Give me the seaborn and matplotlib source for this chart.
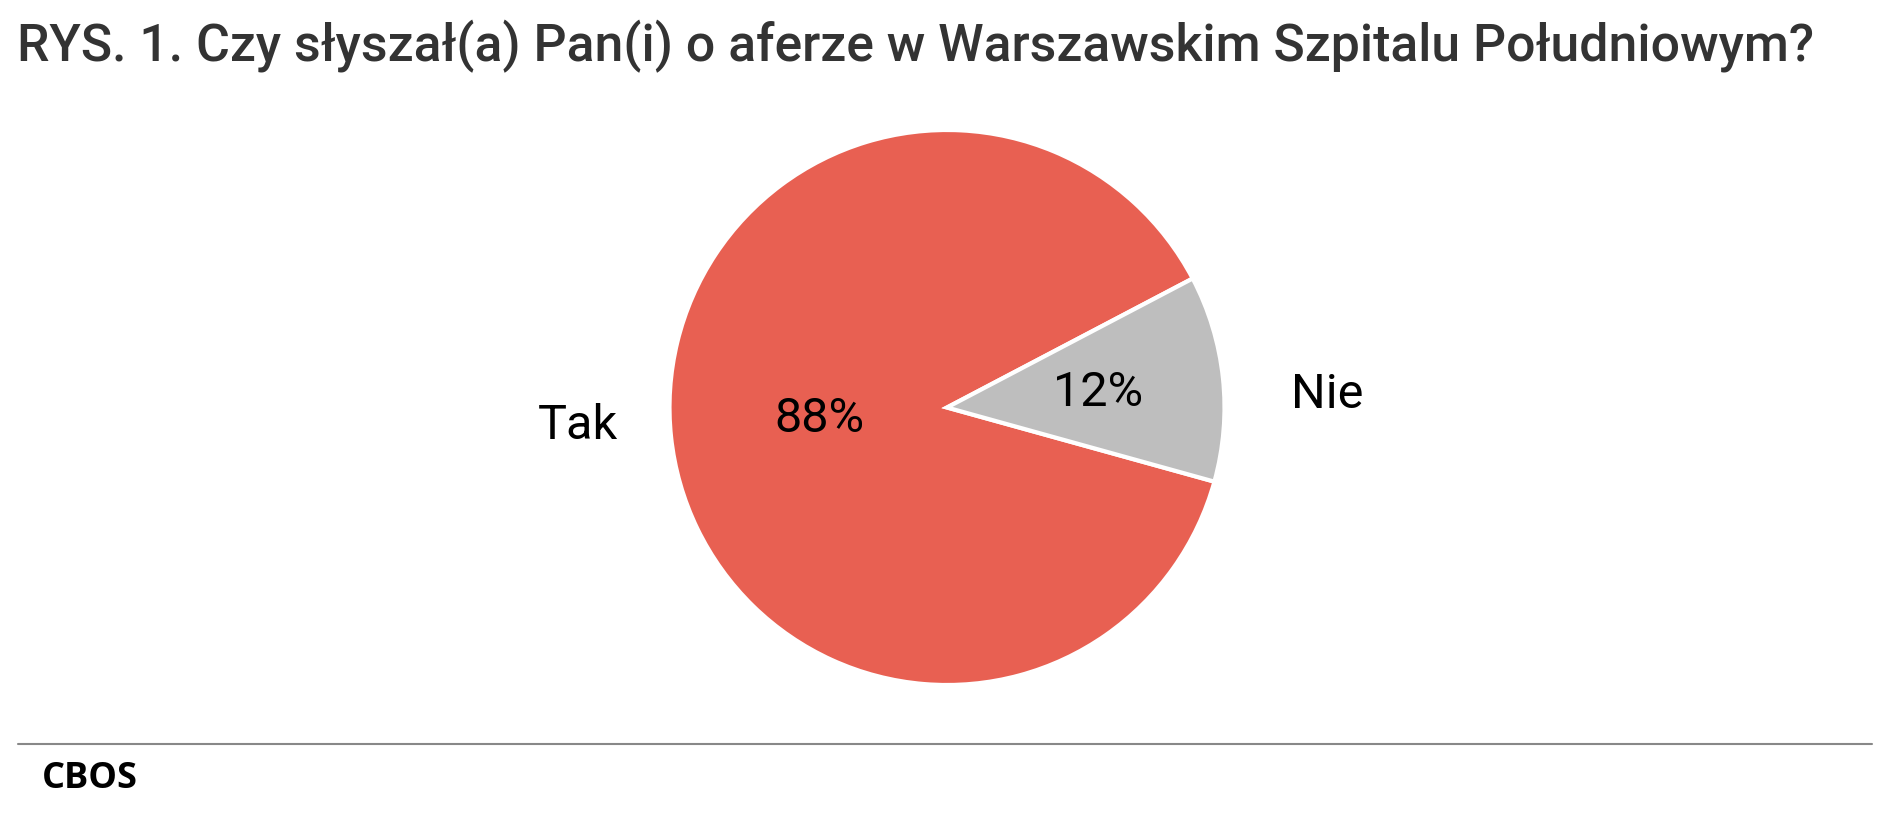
import matplotlib
matplotlib.use("Agg")
import matplotlib.pyplot as plt
import seaborn as sns
import numpy as np
from matplotlib.lines import Line2D

# ---- data ----
categories = ["Tak", "Nie"]
values = [88, 12]
slice_colors = ["#E86052", "#BEBEBE"]
title = "RYS. 1. Czy słyszał(a) Pan(i) o aferze w Warszawskim Szpitalu Południowym?"
source = "CBOS"

sns.set_theme(style="white")
plt.rcParams["font.family"] = ["Roboto", "DejaVu Sans"]

W, H = 1891, 815
fig = plt.figure(figsize=(W / 100, H / 100), dpi=100)
fig.patch.set_facecolor("white")

# pie geometry (pixels)
R = 277.5
cx, cy = 947, 407.5  # from top
ax_w, ax_h = 4 * R, 2.4 * R
left = (cx - ax_w / 2) / W
bottom = ((H - cy) - ax_h / 2) / H
ax = fig.add_axes([left, bottom, ax_w / W, ax_h / H])

palette = sns.color_palette(slice_colors)
wedges, texts, autotexts = ax.pie(
    values, labels=categories, colors=palette, startangle=27.7,
    counterclock=True, autopct=lambda p: f"{p:.0f}%",
    wedgeprops=dict(edgecolor="white", linewidth=3),
    textprops=dict(fontsize=35, color="black"),
)
ax.set_xlim(-2, 2)
ax.set_ylim(-1.2, 1.2)
ax.set_aspect("auto")
ax.axis("off")

# label placement (layout)
label_pos = [(-1.33, -0.112), (1.37, 0.0)]
pct_pos = [(-0.461, -0.090), (0.543, 0.0045)]
for t, p in zip(texts, label_pos):
    t.set_position(p); t.set_ha("center"); t.set_va("baseline")
for t, p in zip(autotexts, pct_pos):
    t.set_position(p); t.set_ha("center"); t.set_va("baseline")

fig.text(17 / W, 1 - 61 / H, title, fontsize=37.3, fontweight="medium",
         color="#333333", ha="left", va="baseline")

fig.add_artist(Line2D([18 / W, 1872 / W], [1 - 744 / H, 1 - 744 / H],
                      transform=fig.transFigure, color="#888888", lw=1.5))

fig.text(42 / W, 1 - 788 / H, source, fontsize=26, fontweight="bold",
         family=["Open Sans", "DejaVu Sans"], color="black",
         ha="left", va="baseline")

fig.savefig("out.png", dpi=100, facecolor="white")
